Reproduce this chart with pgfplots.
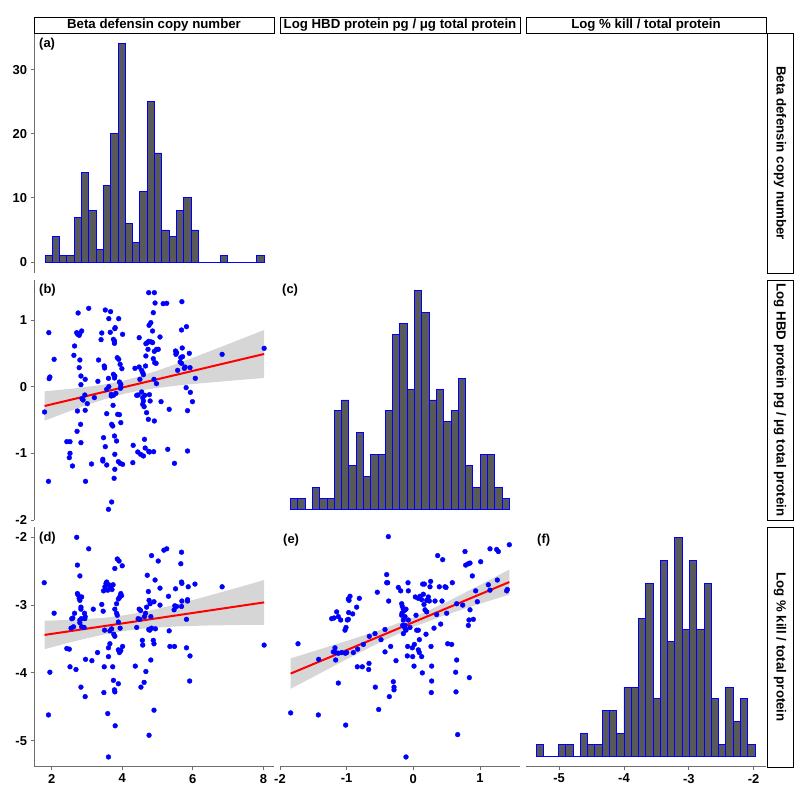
\documentclass[border=0pt]{standalone}
\usepackage{pgfplots}
\pgfplotsset{compat=1.18}
\usepackage{fontspec}
\setmainfont{Liberation Sans}
\definecolor{histfill}{RGB}{89,89,89}
\definecolor{axisgray}{RGB}{110,110,110}
\definecolor{ribbon}{RGB}{153,153,153}
\pgfplotsset{
  panel/.style={scale only axis, width=240bp, height=240bp, anchor=south west,
    enlargelimits=false, tick align=outside, major tick length=3.5bp,
    tick style={axisgray, line width=0.9bp},
    axis line style={axisgray, line width=1bp, -},
    tick label style={font=\bfseries\fontsize{13}{13}\selectfont, black},
    /pgf/number format/assume math mode=true},
  inner/.style={axis lines=none},
  lefty/.style={axis y line*=left, axis x line=none},
  bottomx/.style={axis x line*=bottom, axis y line=none},
  both/.style={axis x line*=bottom, axis y line*=left},
  hist/.style={ybar interval, fill=histfill, draw=blue, line width=0.9bp},
  pts/.style={only marks, mark=*, mark size=2.4bp, blue, mark options={draw=blue, fill=blue}},
  rib/.style={fill=ribbon, fill opacity=0.4, draw=none},
  fit/.style={red, line width=2bp},
}
\begin{document}
\begin{tikzpicture}
\begin{scope}[x=1bp, y=1bp]
\useasboundingbox (0,0) rectangle (800,797);
\end{scope}

% ---------- (a) histogram: copy number ----------
\begin{axis}[panel, lefty, at={(34bp,524bp)}, xmin=1.5, xmax=8.3, ymin=-1.7, ymax=35.7,
  ytick={0,10,20,30}, yticklabels={0,10,20,30}]
\addplot[hist] table {
x y
1.812 1
2.019 4
2.226 1
2.432 1
2.639 7
2.846 14
3.053 8
3.260 2
3.466 12
3.673 20
3.880 34
4.087 6
4.294 3
4.500 11
4.707 25
4.914 17
5.121 5
5.328 4
5.534 8
5.741 10
5.948 5
6.155 0
6.362 0
6.568 0
6.775 1
6.982 0
7.189 0
7.396 0
7.602 0
7.809 1
8.016 1
};
\end{axis}

% ---------- (b) scatter: copy number vs log HBD ----------
\begin{axis}[panel, lefty, at={(34bp,277bp)}, xmin=1.5, xmax=8.3, ymin=-2.0, ymax=1.6,
  ytick={-2,-1,0,1}, yticklabels={-2,-1,0,1}]
\addplot[pts] table {
x y
1.80 -0.38
1.92 0.81
1.91 -1.42
1.93 0.12
1.95 0.145
2.07 0.41
2.52 -0.825
2.43 -0.825
2.52 -1.0
2.50 -1.065
2.59 -1.19
2.63 0.47
2.65 0.61
2.71 0.81
2.74 0.785
2.78 0.77
2.85 0.835
2.80 0.80
2.75 1.105
2.80 0.40
2.78 0.285
2.73 -0.365
2.72 -0.67
2.83 0.16
2.83 0.03
2.86 -0.18
2.89 -0.20
2.82 -0.565
2.83 -0.84
2.94 -0.125
2.95 0.11
2.95 -0.355
3.01 -0.255
2.96 -1.42
3.05 1.175
3.13 -1.16
3.21 -0.165
3.31 0.08
3.33 0.40
3.42 0.805
3.40 0.705
3.49 0.31
3.50 0.28
3.52 1.15
3.47 -0.765
3.45 -1.09
3.45 -1.115
3.52 -0.90
3.56 -0.405
3.56 -0.04
3.61 0.125
3.62 0
3.62 1.02
3.67 1.125
3.66 0.815
3.75 0.71
3.78 0.685
3.78 0.65
3.79 0.87
3.80 0.885
3.90 1.02
4.01 0.785
3.86 0.435
3.90 0.41
3.94 0.335
3.75 0.185
3.79 0.16
3.78 0.13
3.69 -0.115
3.75 -0.13
3.82 -0.10
3.92 0.07
3.96 0.035
3.96 0
3.87 -0.415
3.92 -0.42
3.96 -0.54
3.73 -0.59
3.78 -0.74
3.84 -0.815
3.70 -0.565
3.79 -1.015
3.89 -1.125
3.94 -1.15
4.01 -1.165
3.79 -1.24
3.77 -1.375
3.70 -1.73
3.61 -1.84
3.56 -1.175
3.74 -0.28
3.69 -0.14
3.99 0.27
3.95 -0.025
4.31 -0.88
4.30 -1.14
4.36 0.275
4.41 -0.13
4.48 0.735
4.44 -0.98
4.52 -1.015
4.60 -1.04
4.55 0.245
4.58 0.21
4.60 0.18
4.55 -0.08
4.58 -0.165
4.60 -0.215
4.58 -0.265
4.62 -0.30
4.63 -0.79
4.65 -0.92
4.67 0.645
4.71 0.66
4.75 0.68
4.67 0.46
4.73 0.56
4.75 1.41
4.91 1.41
4.76 0.92
4.81 0.96
4.86 0.835
4.83 0.67
4.86 0.66
4.88 0.42
4.92 0.36
4.96 0.35
4.88 1.11
4.93 1.255
4.91 0.53
4.97 0.56
5.02 0.56
4.90 0.11
4.97 0.045
4.77 -0.12
4.79 -0.215
4.69 -0.39
4.74 -0.49
4.75 -0.97
4.77 -0.98
4.89 -0.975
4.91 -0.515
5.07 0.745
5.10 -0.225
5.16 1.245
5.26 1.25
5.29 -0.94
5.33 -0.34
5.48 -1.15
5.51 0.535
5.54 0.51
5.52 0.485
5.57 0.245
5.64 0.37
5.68 0.35
5.66 0.435
5.70 0.58
5.69 1.275
5.68 0.85
5.71 0.45
5.76 0.275
5.78 0.295
5.81 -0.015
5.82 0.90
5.85 -0.36
5.85 -0.965
5.90 0.50
5.93 -0.085
5.92 0.285
5.99 -0.225
6.07 0.125
6.83 0.485
8.02 0.575
4.50 0.11
4.45 -0.125
4.64 -0.13
4.48 0.295
4.66 0.31
};
\addplot[rib] table {
x y
1.8 -0.07
2.5 -0.034
3.0 -0.004
3.5 0.034
4.05 0.092
4.5 0.155
5.0 0.241
5.5 0.335
6.0 0.433
6.5 0.535
7.0 0.638
7.5 0.742
8.02 0.85
8.02 0.13
7.5 0.108
7.0 0.086
6.5 0.063
6.0 0.039
5.5 0.013
5.0 -0.019
4.5 -0.059
4.05 -0.108
3.5 -0.188
3.0 -0.275
2.5 -0.37
1.8 -0.51
};
\addplot[fit] coordinates {(1.8,-0.29) (8.02,0.49)};
\end{axis}

% ---------- (c) histogram: log HBD ----------
\begin{axis}[panel, inner, at={(280bp,277bp)}, xmin=-2.0, xmax=1.6, ymin=-1, ymax=21]
\addplot[hist] table {
x y
-1.840 1
-1.731 1
-1.621 0
-1.512 2
-1.403 1
-1.294 1
-1.184 9
-1.075 10
-0.966 4
-0.856 7
-0.747 3
-0.638 5
-0.528 5
-0.419 9
-0.310 16
-0.201 17
-0.091 11
0.018 20
0.127 18
0.237 10
0.346 11
0.455 8
0.565 9
0.674 12
0.783 4
0.893 2
1.002 5
1.111 5
1.220 2
1.330 1
1.439 1
};
\end{axis}

% ---------- (d) scatter: copy number vs log kill ----------
\begin{axis}[panel, both, at={(34bp,30bp)}, xmin=1.5, xmax=8.3, ymin=-5.388, ymax=-1.848,
  ytick={-5,-4,-3,-2}, yticklabels={-5,-4,-3,-2},
  xtick={2,4,6,8}, xticklabels={2,4,6,8}]
\addplot[pts] table {
x y
1.79 -2.67
2.07 -3.12
1.91 -4.62
1.95 -3.99
2.43 -3.64
2.50 -3.65
2.52 -3.91
2.55 -3.34
2.57 -3.20
2.60 -3.19
2.65 -3.12
2.69 -3.95
2.71 -2.00
2.73 -2.83
2.75 -2.85
2.73 -2.41
2.80 -2.57
2.80 -2.93
2.83 -3.03
2.83 -3.06
2.85 -2.88
2.78 -2.90
2.80 -3.22
2.84 -3.20
2.85 -3.32
2.93 -3.12
2.95 -3.17
2.94 -3.20
2.83 -4.21
2.96 -3.80
3.05 -2.17
2.95 -4.35
3.18 -3.06
3.30 -3.70
3.14 -3.82
3.42 -2.99
3.47 -2.79
3.46 -3.09
3.50 -3.37
3.49 -3.91
3.48 -4.29
3.54 -2.68
3.56 -2.66
3.57 -2.70
3.59 -2.78
3.51 -2.73
3.62 -2.70
3.66 -2.73
3.71 -2.77
3.74 -2.70
3.59 -4.60
3.61 -5.24
3.61 -3.63
3.61 -3.76
3.65 -3.57
3.70 -3.35
3.65 -3.38
3.73 -3.91
3.75 -4.11
3.79 -4.28
3.78 -4.25
3.80 -4.78
3.76 -3.43
3.79 -3.46
3.84 -3.12
3.86 -3.15
3.79 -3.06
3.84 -2.98
3.79 -2.46
3.86 -2.32
3.91 -2.35
3.89 -2.91
3.92 -2.89
3.94 -2.87
4.00 -2.42
3.96 -2.83
3.98 -2.86
3.89 -3.66
3.92 -3.70
3.96 -3.67
4.01 -3.61
3.89 -4.16
3.94 -3.34
3.89 -3.25
4.37 -3.90
4.41 -3.33
4.45 -3.20
4.50 -3.21
4.48 -3.06
4.52 -3.08
4.53 -4.21
4.62 -4.14
4.58 -3.59
4.57 -3.52
4.63 -3.17
4.66 -3.12
4.69 -3.03
4.67 -3.98
4.71 -2.56
4.74 -2.80
4.76 -2.93
4.79 -2.98
4.75 -3.36
4.78 -3.37
4.83 -3.34
4.76 -4.92
4.81 -3.17
4.81 -3.81
4.83 -2.27
4.88 -3.52
4.90 -3.57
4.90 -4.55
4.90 -2.95
4.93 -2.63
4.94 -3.35
5.02 -2.35
5.07 -3.00
5.07 -2.75
5.18 -2.19
5.26 -2.17
5.31 -2.87
5.33 -3.38
5.35 -3.61
5.47 -3.07
5.51 -2.76
5.49 -3.01
5.54 -3.02
5.48 -3.61
5.68 -3.02
5.68 -2.22
5.66 -2.39
5.68 -2.66
5.69 -2.68
5.69 -2.94
5.82 -3.21
5.82 -3.63
5.85 -2.94
5.85 -2.92
5.87 -2.73
5.92 -3.75
5.91 -4.12
6.06 -2.69
6.83 -2.73
8.02 -3.59
2.80 -3.26
2.62 -3.32
2.92 -3.33
};
\addplot[rib] table {
x y
1.8 -3.23
2.5 -3.219
3.0 -3.205
3.5 -3.186
4.05 -3.150
4.5 -3.110
5.0 -3.056
5.5 -2.992
6.0 -2.925
6.5 -2.854
7.0 -2.782
7.5 -2.708
8.02 -2.63
8.02 -3.29
7.5 -3.292
7.0 -3.296
6.5 -3.300
6.0 -3.307
5.5 -3.316
5.0 -3.330
4.5 -3.352
4.05 -3.382
3.5 -3.432
3.0 -3.489
2.5 -3.553
1.8 -3.65
};
\addplot[fit] coordinates {(1.8,-3.44) (8.02,-2.96)};
\end{axis}

% ---------- (e) scatter: log HBD vs log kill ----------
\begin{axis}[panel, bottomx, at={(280bp,30bp)}, xmin=-2.0, xmax=1.6, ymin=-5.388, ymax=-1.848,
  xtick={-2,-1,0,1}, xticklabels={-2,-1,0,1}]
\addplot[pts] table {
x y
-1.84 -4.59
-1.425 -4.62
-1.015 -4.77
-1.73 -3.57
-0.375 -1.99
-0.11 -5.24
0.665 -4.91
-0.52 -4.54
-0.36 -4.35
-0.29 -4.25
-0.29 -4.21
-0.30 -4.13
-0.57 -4.21
-1.125 -4.15
-1.42 -3.80
-1.175 -3.63
-1.165 -3.70
-1.125 -3.71
-1.075 -3.70
-1.02 -3.71
-1.00 -3.70
-1.165 -3.81
-1.225 -3.20
-1.19 -3.19
-1.15 -3.10
-1.125 -3.17
-1.025 -3.37
-1.01 -3.33
-0.99 -3.22
-0.975 -3.21
-0.97 -3.11
-0.91 -3.13
-0.975 -2.91
-0.95 -2.87
-0.965 -2.93
-0.85 -3.03
-0.81 -2.90
-0.90 -3.70
-0.84 -3.91
-0.765 -3.91
-0.665 -3.86
-0.67 -3.95
-0.835 -3.65
-0.75 -3.58
-0.66 -3.46
-0.575 -3.42
-0.425 -3.36
-0.54 -2.81
-0.485 -3.51
-0.425 -3.69
-0.40 -2.55
-0.40 -2.67
-0.385 -2.67
-0.37 -2.94
-0.34 -3.61
-0.26 -3.82
-0.225 -2.74
-0.19 -2.79
-0.175 -2.98
-0.165 -3.02
-0.15 -3.06
-0.135 -3.08
-0.11 -3.06
-0.17 -3.12
-0.15 -3.22
-0.125 -3.17
-0.16 -3.30
-0.15 -3.42
-0.125 -3.34
-0.11 -3.37
-0.125 -3.30
-0.085 -3.61
-0.09 -3.75
-0.08 -2.67
-0.075 -2.79
-0.075 -3.22
-0.05 -3.33
-0.015 -3.63
-0.01 -3.76
0.01 -3.90
0.015 -3.58
0.03 -2.88
0.04 -3.15
0.05 -3.37
0.075 -3.37
0.09 -3.51
0.075 -3.66
0.09 -3.70
0.125 -3.76
0.10 -2.87
0.125 -2.92
0.14 -2.69
0.165 -2.69
0.135 -4.00
0.16 -2.99
0.175 -3.07
0.20 -3.10
0.19 -3.43
0.225 -2.88
0.24 -2.94
0.25 -2.73
0.26 -2.65
0.265 -3.61
0.275 -3.90
0.275 -4.12
0.27 -4.29
0.31 -3.34
0.325 -2.94
0.35 -3.14
0.365 -2.27
0.39 -2.73
0.41 -3.28
0.43 -2.94
0.44 -2.33
0.475 -2.73
0.49 -2.74
0.50 -3.12
0.515 -3.57
0.575 -3.58
0.585 -2.67
0.65 -3.81
0.635 -3.99
0.64 -4.28
0.65 -2.98
0.74 -3.00
0.775 -2.21
0.785 -2.41
0.825 -2.39
0.85 -2.38
0.84 -4.07
0.835 -3.22
0.85 -3.07
0.90 -3.21
0.825 -3.30
0.885 -2.57
0.935 -2.79
0.96 -2.95
1.01 -2.36
1.15 -2.17
1.25 -2.18
1.275 -2.21
1.125 -2.70
1.15 -2.78
1.26 -2.63
1.41 -2.77
1.44 -2.11
1.40 -2.79
0.075 -2.90
0.15 -2.84
0.20 -2.93
-0.175 -3.15
-1.09 -3.22
-1.20 -3.69
};
\addplot[rib] table {
x y
-1.84 -3.785
-1.5 -3.682
-1.0 -3.529
-0.5 -3.368
0.0 -3.183
0.5 -2.954
1.0 -2.703
1.44 -2.475
1.44 -2.845
1.0 -2.980
0.5 -3.140
0.0 -3.323
-0.5 -3.548
-1.0 -3.799
-1.5 -4.058
-1.84 -4.235
};
\addplot[fit] coordinates {(-1.84,-4.01) (1.44,-2.66)};
\end{axis}

% ---------- (f) histogram: log kill ----------
\begin{axis}[panel, bottomx, at={(526bp,30bp)}, xmin=-5.51, xmax=-1.81, ymin=-0.95, ymax=19.95,
  xtick={-5,-4,-3,-2}, xticklabels={-5,-4,-3,-2}]
\addplot[hist] table {
x y
-5.346 1
-5.234 0
-5.122 0
-5.009 1
-4.897 1
-4.785 0
-4.673 2
-4.561 1
-4.448 1
-4.336 4
-4.224 4
-4.112 2
-4.000 6
-3.887 6
-3.775 12
-3.663 15
-3.551 5
-3.439 17
-3.326 10
-3.214 19
-3.102 11
-2.990 17
-2.878 11
-2.765 15
-2.653 5
-2.541 1
-2.429 6
-2.317 3
-2.204 5
-2.092 1
-1.980 1
};
\end{axis}

\begin{scope}[x=1bp, y=1bp]
% ---------- panel letters ----------
\begin{scope}[every node/.style={inner sep=0pt, anchor=west, font=\bfseries\fontsize{13}{13}\selectfont}]
\node at (39,753) {(a)};
\node at (39,506.5) {(b)};
\node at (282,507) {(c)};
\node at (39,259) {(d)};
\node at (283,257) {(e)};
\node at (537,257) {(f)};
\end{scope}

% ---------- strips ----------
\begin{scope}[every node/.style={font=\bfseries\fontsize{13.3}{13.3}\selectfont}]
\draw[black, line width=0.8bp, fill=white] (34,764) rectangle (274,780);
\node at (154,772) {Beta defensin copy number};
\draw[black, line width=0.8bp, fill=white] (280,764) rectangle (520,780);
\node at (400,772) {Log HBD protein pg / μg total protein};
\draw[black, line width=0.8bp, fill=white] (526,764) rectangle (766,780);
\node at (646,772) {Log \% kill / total protein};
\draw[black, line width=0.8bp, fill=white] (767,524) rectangle (793,764);
\node[rotate=-90] at (780,644) {Beta defensin copy number};
\draw[black, line width=0.8bp, fill=white] (767,277) rectangle (793,517);
\node[rotate=-90] at (780,397) {Log HBD protein pg / μg total protein};
\draw[black, line width=0.8bp, fill=white] (767,30) rectangle (793,270);
\node[rotate=-90] at (780,150) {Log \% kill / total protein};
\end{scope}
\end{scope}
\end{tikzpicture}
\end{document}
